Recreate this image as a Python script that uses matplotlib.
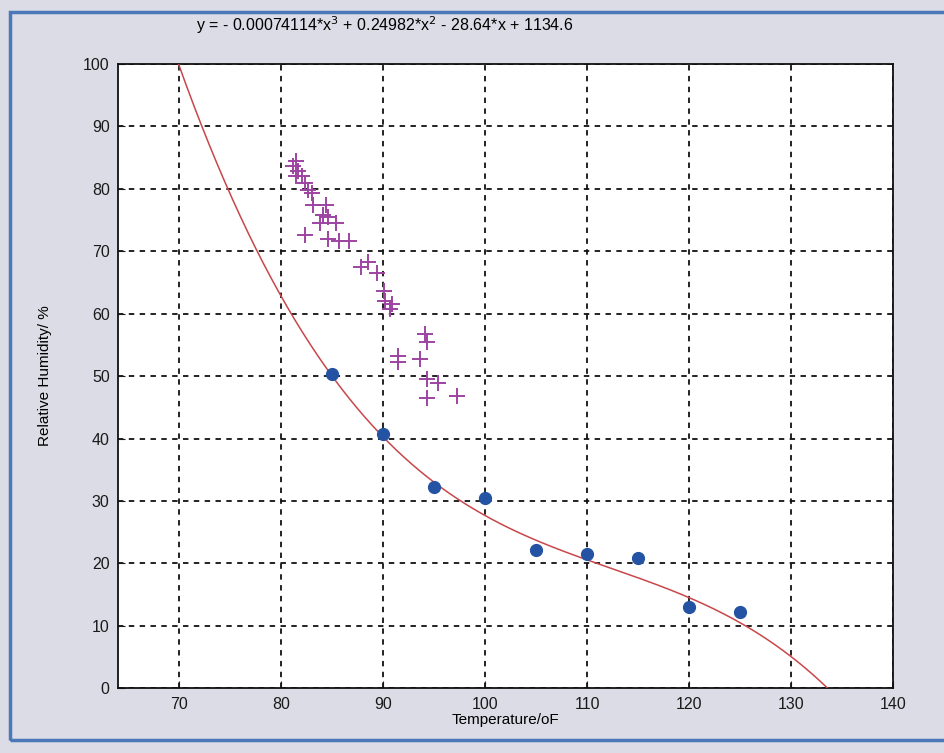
import numpy as np
import matplotlib
matplotlib.use("Agg")
import matplotlib.pyplot as plt
from matplotlib.patches import Rectangle

plt.rcParams['font.family'] = ['Liberation Sans', 'DejaVu Sans']

# measured points (blue dots)
temp_dots = [85, 90, 95, 100, 105, 110, 115, 120, 125]
rh_dots = [50.3, 40.7, 32.2, 30.4, 22.2, 21.5, 20.8, 13.0, 12.2]

# second data set (purple plus markers)
temp_plus = [81.5, 81.2, 81.7, 81.5, 82.0, 82.3, 82.6, 83.0, 83.1, 84.4,
             84.1, 84.6, 83.8, 85.4, 82.3, 84.6, 85.7, 86.7, 87.8, 88.5,
             89.4, 90.1, 90.2, 90.9, 90.7, 94.1, 94.3, 91.5, 91.5, 93.6,
             94.3, 95.4, 94.3, 97.2]
rh_plus = [84.4, 83.6, 82.8, 82.0, 82.0, 80.9, 79.8, 79.3, 77.4, 77.4,
           75.8, 75.5, 74.5, 74.5, 72.6, 71.9, 71.6, 71.6, 67.5, 68.3,
           66.5, 63.7, 62.1, 61.6, 60.8, 56.7, 55.4, 53.2, 52.2, 52.7,
           49.5, 48.9, 46.5, 46.8]

# cubic fit coefficients from the title
coef = [-0.00074114, 0.24982, -28.64, 1134.6]

xticks = [70, 80, 90, 100, 110, 120, 130, 140]
yticks = [0, 10, 20, 30, 40, 50, 60, 70, 80, 90, 100]

fig = plt.figure(figsize=(9.44, 7.53), dpi=100, facecolor='#dcdce6')
ax = fig.add_axes([0.125, 0.086, 0.821, 0.829])
ax.set_facecolor('white')

xs = np.linspace(64, 140, 400)
ax.plot(xs, np.polyval(coef, xs), color='#c8474a', lw=1.1, zorder=3)
ax.plot(temp_plus, rh_plus, '+', color='#9d44a2', ms=11, mew=1.4, zorder=4)
ax.plot(temp_dots, rh_dots, 'o', color='#2453a3', ms=8.5, zorder=5)

ax.set_xlim(64, 140)
ax.set_ylim(0, 100)
ax.set_xticks(xticks)
ax.set_yticks(yticks)
ax.tick_params(direction='in', length=5, labelsize=11.5, colors='#1a1a1a', pad=6)
ax.grid(True, color='#111111', linestyle=(0, (3, 3)), lw=1.3)
for s in ax.spines.values():
    s.set_linewidth(1.3)
    s.set_color('#111111')

ax.set_xlabel('Temperature/oF', fontsize=11, labelpad=1)
ax.set_ylabel('Relative Humidity/ %', fontsize=11, labelpad=22)
fig.text(0.408, 0.966, r'y = - 0.00074114*x$^3$ + 0.24982*x$^2$ - 28.64*x + 1134.6',
         fontsize=11.5, ha='center', va='center')

fig.patches.append(Rectangle((0.011, 0.017), 1.2, 0.967, transform=fig.transFigure,
                             fill=False, edgecolor='#4a78b8', lw=2.5))

fig.savefig('out.png', dpi=100, facecolor=fig.get_facecolor())
